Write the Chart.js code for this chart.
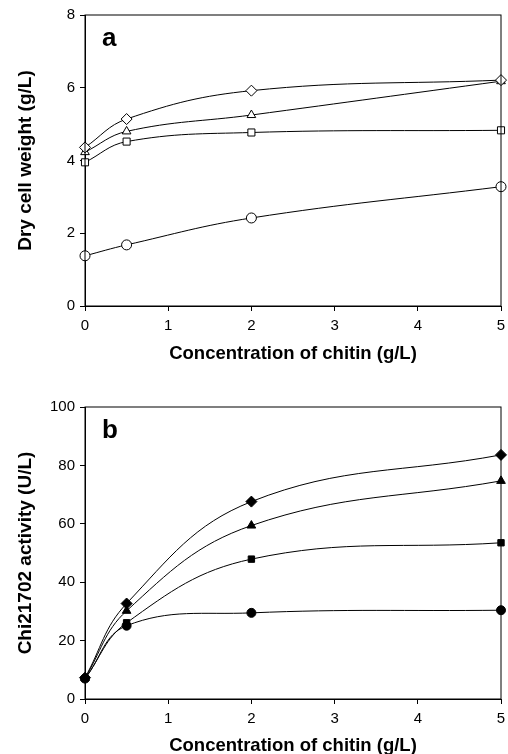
<!DOCTYPE html>
<html>
<head>
<meta charset="utf-8">
<script src="https://cdn.jsdelivr.net/npm/chart.js@4/dist/chart.umd.min.js"></script>
<style>
  html, body { margin: 0; padding: 0; background: #fff; }
  #wrap { position: relative; width: 508px; height: 754px; }
  .panel { position: absolute; left: 0; width: 508px; }
</style>
</head>
<body>
<div id="wrap">
  <div class="panel" style="top:0;height:364px"><canvas id="chartA"></canvas></div>
  <div class="panel" style="top:364px;height:390px"><canvas id="chartB"></canvas></div>
</div>
<script>
// chitin concentration (g/L)
const chitinConc = [0, 0.5, 2, 5];

// (a) dry cell weight, g/L
const dcwDiamond = [4.36, 5.14, 5.92, 6.21];
const dcwTriangle = [4.23, 4.80, 5.25, 6.18];
const dcwSquare = [3.95, 4.52, 4.77, 4.83];
const dcwCircle = [1.38, 1.68, 2.42, 3.28];

// (b) Chi21702 activity, U/L
const actDiamond = [7.3, 32.7, 67.6, 83.6];
const actTriangle = [7.2, 30.2, 59.4, 74.7];
const actSquare = [7.0, 26.1, 47.9, 53.5];
const actCircle = [7.0, 25.1, 29.5, 30.4];

const xTicks = [0, 1, 2, 3, 4, 5];
const yTicksA = [0, 2, 4, 6, 8];
const yTicksB = [0, 20, 40, 60, 80, 100];

const FONT = "'Liberation Sans', Arial, Helvetica, sans-serif";

const toPoints = (values) => values.map((v, i) => ({ x: chitinConc[i], y: v }));

const makeSet = (values, style, radius, filled) => ({
    data: toPoints(values),
    borderColor: '#000',
    borderWidth: 1,
    tension: 0.4,
    clip: false,
    pointStyle: style,
    pointRadius: radius,
    pointBorderWidth: 1,
    pointBorderColor: '#000',
    pointBackgroundColor: filled ? '#000' : '#fff',
});

// box around plot + panel letter
const framePlugin = {
    id: 'frame',
    afterDatasetsDraw(chart, args, opts) {
        const { ctx, chartArea } = chart;
        ctx.save();
        ctx.strokeStyle = '#000';
        ctx.lineWidth = 1;
        ctx.strokeRect(chartArea.left, chartArea.top, chartArea.right - chartArea.left, chartArea.bottom - chartArea.top);
        ctx.fillStyle = '#000';
        ctx.font = 'bold 26px ' + FONT;
        ctx.textBaseline = 'alphabetic';
        ctx.fillText(opts.letter, chartArea.left + 17, chartArea.top + 31);
        ctx.restore();
    }
};

function makeChart(canvasId, letter, datasets, yMax, yTicks, yTitle, topPad, xAxisHeight, titleBottomPad) {
    return new Chart(document.getElementById(canvasId), {
        type: 'line',
        data: { datasets: datasets },
        plugins: [framePlugin],
        options: {
            animation: false,
            responsive: true,
            maintainAspectRatio: false,
            layout: { padding: { top: topPad, right: 7, left: 0, bottom: 0 } },
            plugins: {
                legend: { display: false },
                tooltip: { enabled: false },
                frame: { letter: letter },
            },
            scales: {
                x: {
                    type: 'linear',
                    min: 0,
                    max: 5,
                    afterFit: (axis) => {
                        axis.height = xAxisHeight;
                        axis.paddingLeft = 0;
                        axis.paddingRight = 0;
                    },
                    afterBuildTicks: (axis) => { axis.ticks = xTicks.map(v => ({ value: v })); },
                    grid: { drawOnChartArea: false, drawTicks: true, tickLength: 5, color: '#000' },
                    border: { display: true, color: '#000', width: 1 },
                    ticks: { color: '#000', padding: 6, font: { family: FONT, size: 15 } },
                    title: {
                        display: true,
                        text: 'Concentration of chitin (g/L)',
                        color: '#000',
                        padding: { top: 0, bottom: titleBottomPad },
                        font: { family: FONT, size: 18.5, weight: 'bold' },
                    },
                },
                y: {
                    min: 0,
                    max: yMax,
                    afterFit: (axis) => { axis.width = 85; },
                    afterBuildTicks: (axis) => { axis.ticks = yTicks.map(v => ({ value: v })); },
                    grid: { drawOnChartArea: false, drawTicks: true, tickLength: 5, color: '#000' },
                    border: { display: true, color: '#000', width: 1 },
                    ticks: { color: '#000', padding: 5, font: { family: FONT, size: 15 } },
                    title: {
                        display: true,
                        text: yTitle,
                        color: '#000',
                        padding: { top: 14.5, bottom: 0 },
                        font: { family: FONT, size: 19, weight: 'bold' },
                    },
                },
            },
        },
    });
}

makeChart('chartA', 'a', [
    makeSet(dcwDiamond, 'rectRot', 5.5, false),
    makeSet(dcwTriangle, 'triangle', 5, false),
    makeSet(dcwSquare, 'rect', 5, false),
    makeSet(dcwCircle, 'circle', 5, false),
], 8, yTicksA, 'Dry cell weight (g/L)', 15, 58, -1);

makeChart('chartB', 'b', [
    makeSet(actDiamond, 'rectRot', 5.5, true),
    makeSet(actTriangle, 'triangle', 5, true),
    makeSet(actSquare, 'rect', 4.5, true),
    makeSet(actCircle, 'circle', 4.5, true),
], 100, yTicksB, 'Chi21702 activity (U/L)', 43, 55, -3);
</script>
</body>
</html>
